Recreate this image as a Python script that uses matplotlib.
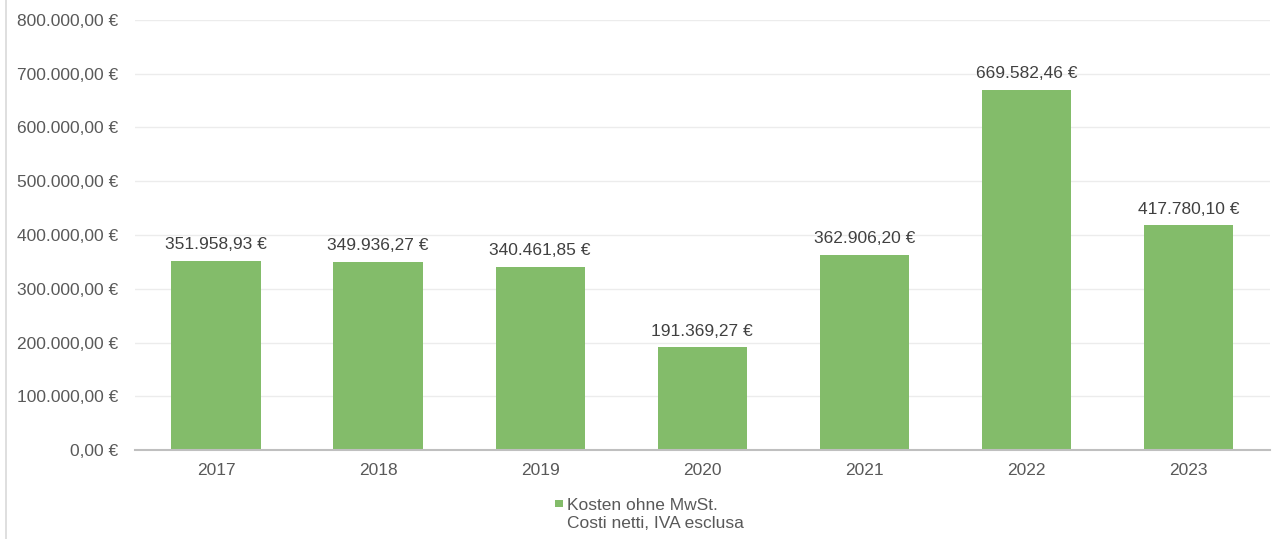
import matplotlib
matplotlib.use("Agg")
import matplotlib.pyplot as plt
from matplotlib.lines import Line2D
from matplotlib.patches import Rectangle

plt.rcParams['font.family'] = ['Liberation Sans', 'DejaVu Sans']

years = ['2017', '2018', '2019', '2020', '2021', '2022', '2023']
costs = [351958.93, 349936.27, 340461.85, 191369.27, 362906.20, 669582.46, 417780.10]
y_ticks = [0, 100000, 200000, 300000, 400000, 500000, 600000, 700000, 800000]
legend_lines = ['Kosten ohne MwSt.', 'Costi netti, IVA esclusa']

BAR_COLOR = '#83bc6a'
TEXT_COLOR = '#595959'
FS = 12.5


def euro(v):
    s = f"{v:,.2f}"
    s = s.replace(',', 'X').replace('.', ',').replace('X', '.')
    return s + ' €'


W, H = 1285, 539
fig = plt.figure(figsize=(W / 100, H / 100), dpi=100)
ax = fig.add_axes([0.105, 0.165, 0.883, 0.798])

x = range(len(years))
bars = ax.bar(x, costs, width=0.55, color=BAR_COLOR, zorder=3)

for b, v in zip(bars, costs):
    ax.text(b.get_x() + b.get_width() / 2, v + 16000, euro(v), ha='center', va='bottom',
            fontsize=FS, color='#404040')

ax.set_xlim(-0.5, len(years) - 0.5)
ax.set_ylim(0, 800000)
ax.set_yticks(y_ticks)
ax.set_yticklabels([euro(v) for v in y_ticks])
ax.set_xticks(list(x))
ax.set_xticklabels(years)
ax.tick_params(axis='both', length=0, labelsize=FS, colors=TEXT_COLOR)
ax.tick_params(axis='y', pad=12)
ax.tick_params(axis='x', pad=9)
ax.grid(axis='y', color='#ececec', linewidth=1, zorder=0)
for s in ['top', 'right', 'left']:
    ax.spines[s].set_visible(False)
ax.spines['bottom'].set_color('#bfbfbf')
ax.spines['bottom'].set_linewidth(1.5)
ax.spines['bottom'].set_zorder(4)

# thin frame line at far left
fig.add_artist(Line2D([6 / W, 6 / W], [0.0, 1.0], color='#d9d9d9', linewidth=1.2,
                      transform=fig.transFigure))

# legend: small square next to first line, second line underneath
fig.add_artist(Rectangle((555 / W, 1 - 507 / H), 7.5 / W, 7 / H, facecolor=BAR_COLOR,
                         edgecolor='none', transform=fig.transFigure))
fig.text(567 / W, 1 - 510 / H, legend_lines[0], fontsize=FS, color=TEXT_COLOR,
         ha='left', va='baseline')
fig.text(567 / W, 1 - 528 / H, legend_lines[1], fontsize=FS, color=TEXT_COLOR,
         ha='left', va='baseline')

fig.savefig('out.png', dpi=100)
